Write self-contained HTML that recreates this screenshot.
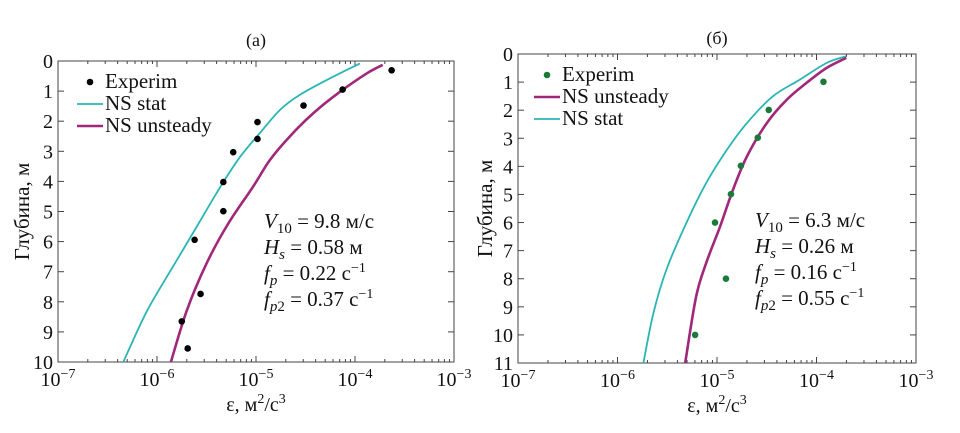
<!DOCTYPE html>
<html><head><meta charset="utf-8"><style>
body{margin:0;background:#fff;width:960px;height:433px;overflow:hidden}
svg{display:block}
svg text{font-family:"Liberation Serif","Times New Roman","DejaVu Serif",serif}
</style></head><body>
<svg id="fig" width="960" height="433" viewBox="0 0 960 433" xmlns="http://www.w3.org/2000/svg" font-family="Liberation Serif, DejaVu Serif, serif"></svg>
<script>
// Panel (а)
const expA_logEps=[-3.63,-4.125,-4.52,-4.985,-4.985,-5.23,-5.33,-5.33,-5.62,-5.56,-5.75,-5.69];
const expA_depth=[0.31,0.95,1.48,2.03,2.59,3.03,4.02,4.99,5.94,7.74,8.65,9.55];
const statA_logEps=[-3.95,-4.25,-4.56,-4.76,-4.96,-5.16,-5.36,-5.58,-5.82,-6.10,-6.34];
const statA_depth=[0.08,0.57,1.13,1.63,2.39,3.18,4.18,5.4,6.73,8.3,10];
const unsA_logEps=[-3.72,-3.88,-4.15,-4.42,-4.66,-4.86,-5.03,-5.28,-5.50,-5.70,-5.86];
const unsA_depth=[0.13,0.41,1.02,1.73,2.51,3.29,4.18,5.4,6.73,8.3,10];
// Panel (б)
const expB_logEps=[-3.93,-4.48,-4.59,-4.76,-4.86,-5.02,-4.91,-5.22];
const expB_depth=[0.99,1.99,2.98,3.98,4.99,6.0,8.0,10.0];
const statB_logEps=[-3.70,-3.90,-4.17,-4.44,-4.70,-4.90,-5.11,-5.31,-5.51,-5.64,-5.74];
const statB_depth=[0.08,0.32,0.92,1.51,2.46,3.41,4.6,6.03,7.69,9.24,11];
const unsB_logEps=[-3.70,-3.90,-4.10,-4.30,-4.50,-4.70,-4.84,-4.97,-5.11,-5.21,-5.32];
const unsB_depth=[0.14,0.5,1.03,1.63,2.46,3.65,4.84,6.15,7.45,8.64,11];
const xDecades=[-7,-6,-5,-4,-3];

const NS="http://www.w3.org/2000/svg";
const svg=document.getElementById('fig');
const FF='Liberation Serif, DejaVu Serif, serif';
function mk(tag,at,parent){const e=document.createElementNS(NS,tag);for(const k in at)e.setAttribute(k,at[k]);if(tag==='text')e.setAttribute('font-family',FF);(parent||svg).appendChild(e);return e;}
const CYAN="#2ab5b5",MAG="#a0287a";

function smoothPath(P){
  let d='M'+P[0][0].toFixed(1)+','+P[0][1].toFixed(1);
  for(let i=0;i<P.length-1;i++){
    const p0=P[i-1]||P[i],p1=P[i],p2=P[i+1],p3=P[i+2]||P[i+1];
    const c1=[p1[0]+(p2[0]-p0[0])/6,p1[1]+(p2[1]-p0[1])/6];
    const c2=[p2[0]-(p3[0]-p1[0])/6,p2[1]-(p3[1]-p1[1])/6];
    d+=' C'+c1.map(v=>v.toFixed(1)).join(',')+' '+c2.map(v=>v.toFixed(1)).join(',')+' '+p2[0].toFixed(1)+','+p2[1].toFixed(1);
  }
  return d;
}

function panel(p){
  const g=mk('g',{});
  
  
  const X=v=>p.x0+(v+7)/4*(p.x1-p.x0);
  const Y=d=>p.y0+d/p.dmax*(p.y1-p.y0);
  const fr=mk('rect',{x:p.x0,y:p.y0,width:p.x1-p.x0,height:p.y1-p.y0,fill:'none',stroke:'#444','stroke-width':1},g);
  
  
  xDecades.forEach((dc,i)=>{
    const x=X(dc);
    mk('line',{x1:x,x2:x,y1:p.y1,y2:p.y1-6,stroke:'#444'},g);
    mk('line',{x1:x,x2:x,y1:p.y0,y2:p.y0+6,stroke:'#444'},g);
    const t=mk('text',{x:x,y:p.y1+24,'font-size':20,'text-anchor':'middle',fill:'#111'},g);
    
    
    t.innerHTML='10<tspan dy="-8" font-size="14">−'+(-dc)+'</tspan>';
    if(i<4)for(let m=2;m<10;m++){const xm=X(dc+Math.log10(m));
      mk('line',{x1:xm,x2:xm,y1:p.y1,y2:p.y1-3,stroke:'#444'},g);
      mk('line',{x1:xm,x2:xm,y1:p.y0,y2:p.y0+3,stroke:'#444'},g);}
  });
  for(let d=0;d<=p.dmax;d++){
    const y=Y(d);
    mk('line',{x1:p.x0,x2:p.x0+6,y1:y,y2:y,stroke:'#444'},g);
    mk('line',{x1:p.x1,x2:p.x1-6,y1:y,y2:y,stroke:'#444'},g);
    const t=mk('text',{x:p.x0-5,y:y+7,'font-size':20,'text-anchor':'end',fill:'#111'},g);
    
    
    t.textContent=d;
  }
  function line(xs,ys,col,w,name){
    const P=xs.map((v,i)=>[X(v),Y(ys[i])]);
    const l=mk('path',{d:smoothPath(P),fill:'none',stroke:col,'stroke-width':w,'stroke-linejoin':'round'},g);
    
    
  }
  line(p.stat[0],p.stat[1],CYAN,1.8,'ns-stat-line');
  line(p.uns[0],p.uns[1],MAG,2.6,'ns-unsteady-line');
  p.exp[0].forEach((v,i)=>{
    const c=mk('circle',{cx:X(v),cy:Y(p.exp[1][i]),r:3.3,fill:p.dot},g);
    
    
  });
  p.legend.forEach((L,i)=>{
    const y=p.ly+i*22;
    if(L.t==='dot')mk('circle',{cx:p.lx+13,cy:y-6,r:3.3,fill:L.c},g);
    else mk('line',{x1:p.lx,x2:p.lx+26,y1:y-6,y2:y-6,stroke:L.c,'stroke-width':L.w},g);
    const t=mk('text',{x:p.lx+28,y:y,'font-size':21,fill:'#111'},g);
    
    
    t.textContent=L.s;
  });
  const a=p.ann, ax=p.ax, ay=p.ay;
  const rows=[
    '<tspan font-style="italic">V</tspan><tspan dy="5" font-size="15">10</tspan><tspan dy="-5"> = '+a[0]+' м/с</tspan>',
    '<tspan font-style="italic">H</tspan><tspan dy="5" font-size="15" font-style="italic">s</tspan><tspan dy="-5"> = '+a[1]+' м</tspan>',
    '<tspan font-style="italic">f</tspan><tspan dy="5" font-size="15" font-style="italic">p</tspan><tspan dy="-5"> = '+a[2]+' с</tspan><tspan dy="-8" font-size="14">−1</tspan>',
    '<tspan font-style="italic">f</tspan><tspan dy="5" font-size="15" font-style="italic">p</tspan><tspan font-size="15">2</tspan><tspan dy="-5"> = '+a[3]+' с</tspan><tspan dy="-8" font-size="14">−1</tspan>'];
  rows.forEach((r,i)=>{const t=mk('text',{x:ax,y:ay+i*26,'font-size':21,fill:'#111'},g);
    
    
    t.innerHTML=r;});
  const tt=mk('text',{x:(p.x0+p.x1)/2,y:p.ty,'font-size':18,'text-anchor':'middle',fill:'#111'},g);
  
  
  tt.textContent=p.title;
  const xl=mk('text',{x:(p.x0+p.x1)/2,y:p.y1+49,'font-size':20,'text-anchor':'middle',fill:'#111'},g);
  
  
  xl.innerHTML='ε, м<tspan dy="-8" font-size="14">2</tspan><tspan dy="8">/с</tspan><tspan dy="-8" font-size="14">3</tspan>';
  const cy=(p.y0+p.y1)/2;
  const yl=mk('text',{x:p.ylx,y:cy,'font-size':21,'text-anchor':'middle',fill:'#111',transform:'rotate(-90 '+p.ylx+' '+cy+')'},g);
  
  
  yl.textContent='Глубина, м';
}
panel({name:'panel-a',x0:58,x1:454,y0:61,y1:362,dmax:10,ty:46,title:'(а)',ylx:29,
  exp:[expA_logEps,expA_depth],stat:[statA_logEps,statA_depth],uns:[unsA_logEps,unsA_depth],dot:'#000',
  lx:77,ly:88,legend:[{t:'dot',c:'#000',s:'Experim'},{t:'line',c:CYAN,w:1.8,s:'NS stat'},{t:'line',c:MAG,w:2.6,s:'NS unsteady'}],
  ax:264,ay:228,ann:['9.8','0.58','0.22','0.37']});
panel({name:'panel-b',x0:518,x1:916,y0:54,y1:363,dmax:11,ty:44,title:'(б)',ylx:492,
  exp:[expB_logEps,expB_depth],stat:[statB_logEps,statB_depth],uns:[unsB_logEps,unsB_depth],dot:'#1a7a3a',
  lx:534,ly:81,legend:[{t:'dot',c:'#1a7a3a',s:'Experim'},{t:'line',c:MAG,w:2.6,s:'NS unsteady'},{t:'line',c:CYAN,w:1.8,s:'NS stat'}],
  ax:755,ay:227,ann:['6.3','0.26','0.16','0.55']});
</script>
</body></html>
